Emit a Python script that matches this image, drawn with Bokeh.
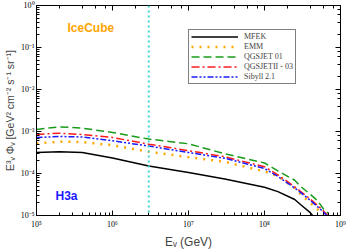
from bokeh.plotting import figure
from bokeh.models import (LogAxis, LogTicker, CustomJSTickFormatter, Span, Label,
                          Legend, LegendItem)
from bokeh.embed import file_html
from bokeh.resources import INLINE

# --- data ---
energy_mfek = [1e5, 2e5, 4e5, 1e6, 3e6, 1e7, 3e7, 1e8, 1.5e8, 2.5e8, 3e8, 4e8, 4.3e8]
flux_mfek = [3.16e-4, 3.3e-4, 3.16e-4, 2.35e-4, 1.5e-4, 1.05e-4, 7.4e-5, 4.7e-5,
             3.7e-5, 2.4e-5, 1.8e-5, 1.17e-5, 1.0e-5]

energy_emm = [1e5, 2e5, 4e5, 1e6, 3e6, 1e7, 3e7, 1e8, 1.5e8, 2.5e8, 3e8, 4e8, 5e8, 6e8]
flux_emm = [5.2e-4, 5.75e-4, 5.6e-4, 4.7e-4, 3.3e-4, 2.45e-4, 1.9e-4, 1.12e-4,
            8.7e-5, 4.5e-5, 3.2e-5, 2.0e-5, 1.4e-5, 1.07e-5]

energy_qgs01 = [1e5, 2e5, 4e5, 1e6, 3e6, 1e7, 3e7, 1e8, 1.5e8, 2.5e8, 3e8, 4e8, 5e8, 6e8, 7e8]
flux_qgs01 = [1.12e-3, 1.29e-3, 1.20e-3, 9.5e-4, 6.6e-4, 5.1e-4, 2.95e-4, 1.78e-4,
              1.15e-4, 6.9e-5, 4.9e-5, 3.2e-5, 2.24e-5, 1.41e-5, 1.1e-5]

energy_qgs2 = [1e5, 2e5, 4e5, 1e6, 3e6, 1e7, 3e7, 1e8, 1.5e8, 2.5e8, 3e8, 4e8, 5e8, 6e8, 6.8e8]
flux_qgs2 = [8.5e-4, 9.1e-4, 8.5e-4, 7.2e-4, 5.0e-4, 3.5e-4, 2.5e-4, 1.45e-4,
             9.3e-5, 4.8e-5, 3.7e-5, 2.45e-5, 1.74e-5, 1.26e-5, 1.0e-5]

energy_sibyll = [1e5, 2e5, 4e5, 1e6, 3e6, 1e7, 3e7, 1e8, 1.5e8, 2.5e8, 3e8, 4e8, 5e8, 6e8, 6.6e8]
flux_sibyll = [7.2e-4, 7.6e-4, 7.4e-4, 6.0e-4, 4.5e-4, 3.16e-4, 2.3e-4, 1.32e-4,
               8.5e-5, 4.5e-5, 3.5e-5, 2.3e-5, 1.62e-5, 1.2e-5, 1.0e-5]

icecube_energy = 3e6

SERIF = "Liberation Serif"
SANS = "Liberation Sans"

p = figure(x_axis_type="log", y_axis_type="log", x_range=(1e5, 1e9), y_range=(1e-5, 1),
           width=349, height=251, output_backend="svg", toolbar_location=None,
           min_border_left=36, min_border_right=9, min_border_top=5, min_border_bottom=32,
           background_fill_color="white", border_fill_color="white")
p.grid.visible = False
p.outline_line_color = "black"
p.outline_line_width = 1

fmt_code = """
const s = {"0":"\u2070","1":"\u00b9","2":"\u00b2","3":"\u00b3","4":"\u2074","5":"\u2075",
           "6":"\u2076","7":"\u2077","8":"\u2078","9":"\u2079","-":"\u207b"};
const e = Math.round(Math.log10(tick));
return "10" + String(e).split("").map(c => s[c]).join("");
"""

def style_axis(ax, show_labels=True):
    ax.major_tick_in = 5
    ax.major_tick_out = 0
    ax.minor_tick_in = 3
    ax.minor_tick_out = 0
    ax.axis_line_color = "black"
    ax.major_tick_line_color = "black"
    ax.minor_tick_line_color = "black"
    if show_labels:
        ax.formatter = CustomJSTickFormatter(code=fmt_code)
        ax.major_label_text_font = SERIF
        ax.major_label_text_font_size = "8px"
        ax.major_label_text_color = "black"
        ax.major_label_standoff = 2
    else:
        ax.major_label_text_font_size = "1px"
        ax.major_label_text_alpha = 0
        ax.major_label_standoff = 0

style_axis(p.xaxis[0])
style_axis(p.yaxis[0])
p.xaxis[0].major_label_standoff = 4
p.xaxis[0].axis_label = "E\u1d65 (GeV)"
p.xaxis[0].axis_label_text_font = SANS
p.xaxis[0].axis_label_text_font_style = "normal"
p.xaxis[0].axis_label_text_font_size = "12px"
p.xaxis[0].axis_label_standoff = 3
p.yaxis[0].axis_label = "E\u00b3\u1d65 \u03a6\u1d65 [GeV\u00b2 cm\u207b\u00b2 s\u207b\u00b9 sr\u207b\u00b9]"
p.yaxis[0].axis_label_text_font = SANS
p.yaxis[0].axis_label_text_font_style = "normal"
p.yaxis[0].axis_label_text_font_size = "10.5px"
p.yaxis[0].axis_label_standoff = 2

top_ax = LogAxis(ticker=LogTicker())
right_ax = LogAxis(ticker=LogTicker())
style_axis(top_ax, False)
style_axis(right_ax, False)
p.add_layout(top_ax, "above")
p.add_layout(right_ax, "right")

# IceCube vertical line
p.add_layout(Span(location=icecube_energy, dimension="height", line_color="#40d8d0",
                  line_width=2, line_dash="2 3"))

r_mfek = p.line(energy_mfek, flux_mfek, line_color="black", line_width=1.5)
r_emm = p.line(energy_emm, flux_emm, line_color="#ffa500", line_width=2.5, line_dash="2 6")
r_q1 = p.line(energy_qgs01, flux_qgs01, line_color="#1a9a1a", line_width=1.5, line_dash="8 4")
r_q2 = p.line(energy_qgs2, flux_qgs2, line_color="#ff1a1a", line_width=1.5, line_dash="8 3 2 3")
r_sib = p.line(energy_sibyll, flux_sibyll, line_color="#1a1aff", line_width=1.5,
               line_dash="6 2 2 2 2 2")

legend = Legend(items=[
    LegendItem(label="MFEK", renderers=[r_mfek]),
    LegendItem(label="EMM", renderers=[r_emm]),
    LegendItem(label="QGSJET 01", renderers=[r_q1]),
    LegendItem(label="QGSJETII - 03", renderers=[r_q2]),
    LegendItem(label="Sibyll 2.1", renderers=[r_sib]),
], location=(152, 131))
legend.label_text_font = SERIF
legend.label_text_font_size = "8px"
legend.label_height = 9
legend.glyph_height = 9
legend.glyph_width = 47
legend.label_standoff = 6
legend.spacing = 1
legend.padding = 2
legend.margin = 0
legend.border_line_color = "black"
legend.border_line_width = 1
legend.background_fill_color = "white"
legend.background_fill_alpha = 1
p.add_layout(legend)

p.add_layout(Label(x=31, y=188, x_units="screen", y_units="screen", text="IceCube",
                   text_color="#ffa500", text_font=SANS, text_font_style="bold",
                   text_font_size="12px", text_baseline="middle"))
p.add_layout(Label(x=19, y=20, x_units="screen", y_units="screen", text="H3a",
                   text_color="#1a1aff", text_font=SANS, text_font_style="bold",
                   text_font_size="12px", text_baseline="middle"))

open("out.html", "w").write(file_html(p, INLINE))
